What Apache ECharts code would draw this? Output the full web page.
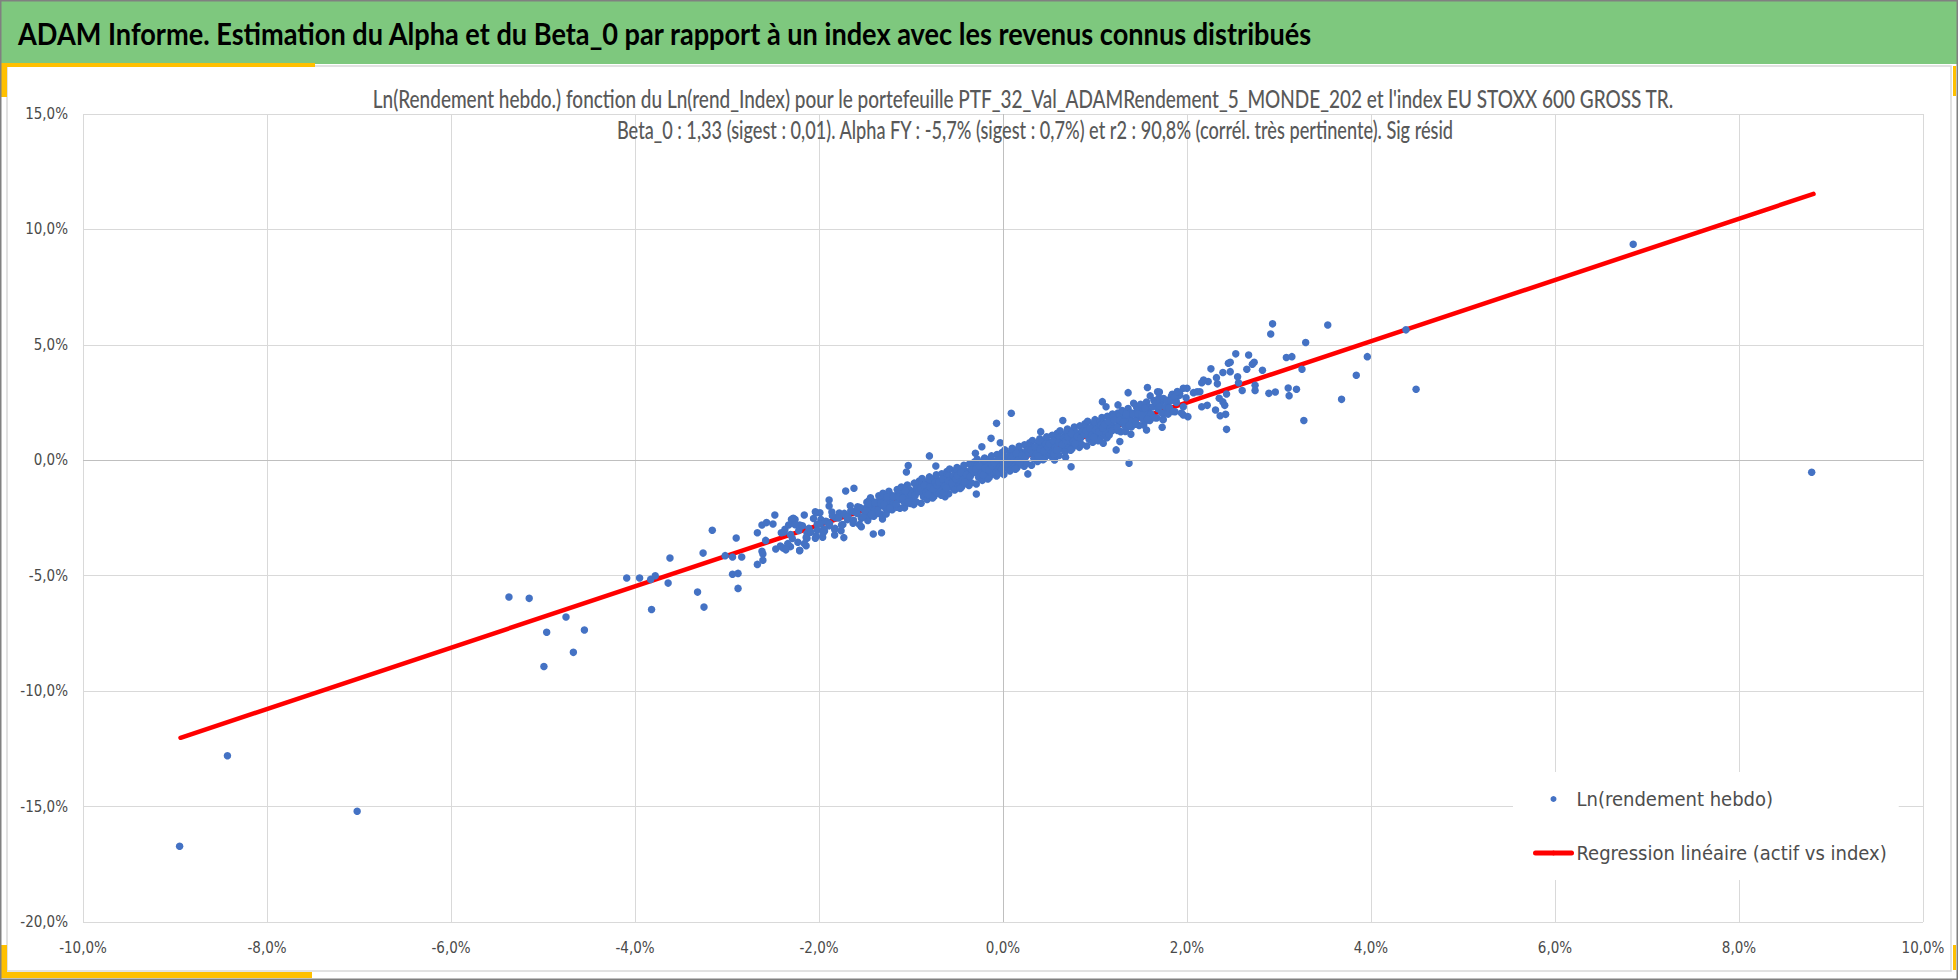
<!DOCTYPE html>
<html>
<head>
<meta charset="utf-8">
<script src="https://cdn.jsdelivr.net/npm/echarts@6.0.0/dist/echarts.min.js"></script>
<style>
  html, body { margin: 0; padding: 0; background: #fff; }
  #chart { width: 1958px; height: 980px; }
</style>
</head>
<body>
<div id="chart"></div>
<script>
// texts
const bannerTitle = 'ADAM Informe. Estimation du Alpha et du Beta_0 par rapport à un index avec les revenus connus distribués'
const subTitle1 = "Ln(Rendement hebdo.) fonction du Ln(rend_Index) pour le portefeuille PTF_32_Val_ADAMRendement_5_MONDE_202 et l'index EU STOXX 600 GROSS TR."
const subTitle2 = 'Beta_0 : 1,33 (sigest : 0,01). Alpha FY : -5,7% (sigest : 0,7%) et r2 : 90,8% (corrél. très pertinente). Sig résid'
const scatterName = 'Ln(rendement hebdo)'
const lineName = 'Regression linéaire (actif vs index)'

// [ln rend index %, ln rend portefeuille %]
const outlierPts = [[-8.95,-16.72],[-8.43,-12.80],[-7.02,-15.20],[6.85,9.36],[8.79,-0.52]]

const leftTailPts = [
  [-5.37,-5.92],[-5.15,-5.98],[-4.75,-6.79],[-4.96,-7.45],[-4.55,-7.35],[-4.67,-8.32],[-4.99,-8.93],
  [-4.09,-5.10],[-3.95,-5.10],[-3.83,-5.16],[-3.78,-5.00],[-3.82,-6.46],[-3.64,-5.32],[-3.62,-4.23],
  [-3.32,-5.71],[-3.25,-6.36],[-3.26,-4.02],[-3.16,-3.03],[-3.02,-4.13],[-2.94,-4.19],[-2.84,-4.19],
  [-2.90,-3.37],[-2.94,-4.94],[-2.88,-4.90],[-2.88,-5.55],[-2.67,-3.14],[-2.62,-2.80],[-2.57,-2.70],
  [-2.50,-2.76],[-2.48,-2.37],[-2.58,-3.47],[-2.62,-3.94],[-2.61,-4.06],[-2.61,-4.33],[-2.67,-4.51],
  [-2.47,-3.84],[-2.42,-3.71],[-2.39,-3.80],[-2.31,-3.74],[-2.21,-3.90],[-2.14,-3.70],[-2.41,-3.14],
  [-2.37,-2.99],[-2.33,-2.80],[-2.30,-2.56],[-2.26,-2.56],[-2.21,-2.80],[-2.16,-2.37],[-2.13,-3.16],
  [-2.13,-3.38],[-2.04,-3.38],[-2.03,-2.27],[-1.99,-2.27],[-2.02,-3.02],[-1.95,-2.98],[-1.89,-1.72],
  [-1.89,-1.98],[-1.83,-3.24],[-2.28,-2.51],[-2.04,-2.23]
]

const offBandPts = [
  [0.09,2.04],[-0.07,1.60],[-0.13,0.95],[-0.03,0.76],[-0.23,0.59],[-0.30,0.30],[-0.80,0.19],
  [-1.03,-0.23],[-1.05,-0.51],[-0.73,-0.25],[-0.29,-1.46],[-0.63,-1.58],[-1.71,-1.33],[-1.62,-1.21],
  [-1.41,-3.19],[-1.32,-3.14],[-1.73,-3.35],[-1.54,-2.88],[-1.31,-2.54],[-2.21,-3.92],[0.74,-0.28],
  [0.68,0.13],[0.27,-0.59],[1.37,-0.13],[1.23,0.45],[1.27,0.81],[1.09,0.74],[1.39,1.13],[1.08,2.54],
  [1.12,2.32],[1.25,2.40],[1.42,2.47],[0.41,1.24],[0.65,1.72],[0.56,0.01]
]

const rightTailPts = [
  [2.93,5.91],[2.91,5.47],[3.53,5.86],[3.29,5.10],[4.38,5.65],[3.96,4.49],[3.84,3.68],[4.49,3.08],
  [3.68,2.64],[3.27,1.72],[3.25,3.94],[3.08,4.45],[3.14,4.49],[3.10,3.13],[3.11,2.80],[3.19,3.08],
  [2.89,2.90],[2.96,2.96],[2.82,3.90],[2.74,3.25],[2.74,3.02],[2.60,3.02],[2.53,4.61],[2.67,4.56],
  [2.65,3.94],[2.71,4.16],[2.73,4.25],[2.55,3.62],[2.56,3.36],[2.47,3.84],[2.45,4.20],[2.47,4.25],
  [2.39,3.80],[2.43,2.87],[2.39,2.53],[2.41,2.38],[2.42,1.99],[2.36,1.93],[2.43,1.34],[2.31,2.18],
  [2.35,2.69],[2.33,3.31],[2.32,3.58],[2.26,3.96],[2.23,3.41],[2.18,3.48],[2.16,3.36],[2.22,2.38],
  [2.16,2.32],[2.14,2.97],[2.11,2.97],[2.07,2.93],[2.00,3.12],[1.96,3.12],[1.92,2.90],[2.01,1.89],
  [1.96,1.96],[1.83,2.76],[1.82,2.61],[1.68,2.97],[1.57,3.15],[1.60,2.79],[1.36,2.93],[1.73,1.43],
  [1.74,1.76],[1.56,1.31],[1.70,2.96]
]

// dense ribbon around the fit, read column by column
const bandPts = [
  [-0.97,-1.92],[-0.93,-1.05],[-1.00,-1.61],[-0.95,-1.34],[-0.91,-0.90],[-0.98,-1.73],[-0.94,-1.20],[-0.99,-1.50],[-0.92,-1.11],[-0.96,-1.79],
  [-0.87,-1.16],[-0.83,-1.65],[-0.90,-0.96],[-0.85,-1.34],[-0.81,-1.42],[-0.88,-0.79],[-0.84,-1.22],[-0.89,-1.86],[-0.82,-0.94],[-0.86,-1.39],
  [-0.77,-1.42],[-0.73,-1.01],[-0.80,-0.72],[-0.75,-1.57],[-0.71,-0.86],[-0.78,-1.17],[-0.74,-1.28],[-0.79,-0.79],[-0.72,-1.43],[-0.76,-0.99],
  [-0.67,-1.51],[-0.63,-0.64],[-0.70,-1.20],[-0.65,-0.93],[-0.61,-0.49],[-0.68,-1.32],[-0.64,-0.79],[-0.69,-1.09],[-0.62,-0.70],[-0.66,-1.38],
  [-0.57,-0.75],[-0.53,-1.24],[-0.60,-0.55],[-0.55,-0.93],[-0.51,-1.01],[-0.58,-0.38],[-0.54,-0.81],[-0.59,-1.45],[-0.52,-0.53],[-0.56,-0.98],
  [-0.47,-1.01],[-0.43,-0.60],[-0.50,-0.31],[-0.45,-1.16],[-0.41,-0.45],[-0.48,-0.76],[-0.44,-0.87],[-0.49,-0.38],[-0.42,-1.02],[-0.46,-0.58],
  [-0.37,-1.09],[-0.33,-0.22],[-0.40,-0.78],[-0.35,-0.51],[-0.31,-0.07],[-0.38,-0.90],[-0.34,-0.37],[-0.39,-0.67],[-0.32,-0.28],[-0.36,-0.96],
  [-0.27,-0.33],[-0.23,-0.82],[-0.30,-0.13],[-0.25,-0.51],[-0.21,-0.59],[-0.28,0.04],[-0.24,-0.39],[-0.29,-1.03],[-0.22,-0.11],[-0.26,-0.56],
  [-0.17,-0.60],[-0.13,-0.19],[-0.20,0.10],[-0.15,-0.75],[-0.11,-0.04],[-0.18,-0.35],[-0.14,-0.46],[-0.19,0.03],[-0.12,-0.61],[-0.16,-0.17],
  [-0.07,-0.68],[-0.03,0.19],[-0.10,-0.37],[-0.05,-0.10],[-0.01,0.34],[-0.08,-0.49],[-0.04,0.04],[-0.09,-0.26],[-0.02,0.13],[-0.06,-0.55],
  [0.03,0.08],[0.07,-0.41],[0.00,0.28],[0.05,-0.10],[0.09,-0.18],[0.02,0.45],[0.06,0.02],[0.01,-0.62],[0.08,0.30],[0.04,-0.15],
  [0.13,-0.18],[0.17,0.23],[0.10,0.52],[0.15,-0.33],[0.19,0.38],[0.12,0.07],[0.16,-0.04],[0.11,0.45],[0.18,-0.19],[0.14,0.25],
  [0.23,-0.26],[0.27,0.61],[0.20,0.05],[0.25,0.32],[0.29,0.76],[0.22,-0.07],[0.26,0.46],[0.21,0.16],[0.28,0.55],[0.24,-0.13],
  [0.33,0.49],[0.37,0.00],[0.30,0.69],[0.35,0.31],[0.39,0.23],[0.32,0.86],[0.36,0.43],[0.31,-0.21],[0.38,0.71],[0.34,0.26],
  [0.43,0.23],[0.47,0.64],[0.40,0.93],[0.45,0.08],[0.49,0.79],[0.42,0.48],[0.46,0.37],[0.41,0.86],[0.48,0.22],[0.44,0.66],
  [0.53,0.15],[0.57,1.02],[0.50,0.46],[0.55,0.73],[0.59,1.17],[0.52,0.34],[0.56,0.87],[0.51,0.57],[0.58,0.96],[0.54,0.28],
  [0.63,0.91],[0.67,0.42],[0.60,1.11],[0.65,0.73],[0.69,0.65],[0.62,1.28],[0.66,0.85],[0.61,0.21],[0.68,1.13],[0.64,0.68],
  [0.73,0.65],[0.77,1.06],[0.70,1.35],[0.75,0.50],[0.79,1.21],[0.72,0.90],[0.76,0.79],[0.71,1.28],[0.78,0.64],[0.74,1.08],
  [0.83,0.56],[0.87,1.43],[0.80,0.87],[0.85,1.14],[0.89,1.58],[0.82,0.75],[0.86,1.28],[0.81,0.98],[0.88,1.37],[0.84,0.69],
  [0.93,1.32],[0.97,0.83],[0.90,1.52],[0.95,1.14],[0.99,1.06],[0.92,1.69],[0.96,1.26],[0.91,0.62],[0.98,1.54],[0.94,1.09],
  [1.03,1.06],[1.07,1.47],[1.00,1.76],[1.05,0.91],[1.09,1.62],[1.02,1.31],[1.06,1.20],[1.01,1.69],[1.08,1.05],[1.04,1.49],
  [1.13,0.98],[1.17,1.85],[1.10,1.29],[1.15,1.56],[1.19,2.00],[1.12,1.17],[1.16,1.70],[1.11,1.40],[1.18,1.79],[1.14,1.11]
]

// second pass over the same ribbon, where the dots overlap into a solid band
const bandFillPts = [
  [-0.985,-1.64],[-0.965,-0.99],[-0.945,-1.80],[-0.925,-1.24],[-0.905,-1.05],
  [-0.885,-1.08],[-0.865,-1.57],[-0.845,-1.19],[-0.825,-1.70],[-0.805,-0.81],
  [-0.785,-1.24],[-0.765,-1.63],[-0.745,-0.80],[-0.725,-0.63],[-0.705,-1.30],
  [-0.685,-1.23],[-0.665,-0.58],[-0.645,-1.39],[-0.625,-0.83],[-0.605,-0.64],
  [-0.585,-0.67],[-0.565,-1.16],[-0.545,-0.78],[-0.525,-1.29],[-0.505,-0.40],
  [-0.485,-0.83],[-0.465,-1.22],[-0.445,-0.39],[-0.425,-0.22],[-0.405,-0.89],
  [-0.385,-0.81],[-0.365,-0.16],[-0.345,-0.97],[-0.325,-0.41],[-0.305,-0.22],
  [-0.285,-0.25],[-0.265,-0.74],[-0.245,-0.36],[-0.225,-0.87],[-0.205,0.02],
  [-0.185,-0.42],[-0.165,-0.81],[-0.145,0.02],[-0.125,0.19],[-0.105,-0.48],
  [-0.085,-0.40],[-0.065,0.25],[-0.045,-0.56],[-0.025,0.00],[-0.005,0.19],
  [0.015,0.16],[0.035,-0.33],[0.055,0.05],[0.075,-0.46],[0.095,0.43],
  [0.115,0.00],[0.135,-0.39],[0.155,0.44],[0.175,0.61],[0.195,-0.06],
  [0.215,0.02],[0.235,0.67],[0.255,-0.14],[0.275,0.42],[0.295,0.61],
  [0.315,0.57],[0.335,0.08],[0.355,0.46],[0.375,-0.05],[0.395,0.84],
  [0.415,0.41],[0.435,0.02],[0.455,0.85],[0.475,1.02],[0.495,0.35],
  [0.515,0.43],[0.535,1.08],[0.555,0.27],[0.575,0.83],[0.595,1.02],
  [0.615,0.99],[0.635,0.50],[0.655,0.88],[0.675,0.37],[0.695,1.26],
  [0.715,0.83],[0.735,0.44],[0.755,1.27],[0.775,1.44],[0.795,0.77],
  [0.815,0.84],[0.835,1.49],[0.855,0.68],[0.875,1.24],[0.895,1.43],
  [0.915,1.40],[0.935,0.91],[0.955,1.29],[0.975,0.78],[0.995,1.67],
  [1.015,1.24],[1.035,0.85],[1.055,1.68],[1.075,1.85],[1.095,1.18],
  [1.115,1.26],[1.135,1.91],[1.155,1.10],[1.175,1.66],[1.195,1.85],
  [-0.995,-1.45],[-0.955,-1.52],[-0.935,-1.23],[-0.915,-1.36],
  [-0.895,-1.21],[-0.855,-1.08],[-0.835,-1.38],[-0.815,-1.48],
  [-0.795,-1.17],[-0.755,-1.24],[-0.735,-0.95],[-0.715,-1.08],
  [-0.695,-0.94],[-0.655,-0.81],[-0.635,-1.11],[-0.615,-1.21],
  [-0.595,-0.90],[-0.555,-0.97],[-0.535,-0.68],[-0.515,-0.81],
  [-0.495,-0.66],[-0.455,-0.53],[-0.435,-0.83],[-0.415,-0.93],
  [-0.395,-0.62],[-0.355,-0.69],[-0.335,-0.40],[-0.315,-0.53],
  [-0.295,-0.38],[-0.255,-0.25],[-0.235,-0.55],[-0.215,-0.65],
  [-0.195,-0.35],[-0.155,-0.42],[-0.135,-0.13],[-0.115,-0.26],
  [-0.095,-0.11],[-0.055,0.02],[-0.035,-0.28],[-0.015,-0.38],
  [0.005,-0.07],[0.045,-0.14],[0.065,0.15],[0.085,0.02],
  [0.105,0.17],[0.145,0.30],[0.165,0.00],[0.185,-0.10],
  [0.205,0.21],[0.245,0.14],[0.265,0.43],[0.285,0.30],
  [0.305,0.44],[0.345,0.57],[0.365,0.27],[0.385,0.17],
  [0.405,0.48],[0.445,0.41],[0.465,0.70],[0.485,0.57],
  [0.505,0.72],[0.545,0.85],[0.565,0.55],[0.585,0.45],
  [0.605,0.76],[0.645,0.69],[0.665,0.98],[0.685,0.85],
  [0.705,1.00],[0.745,1.13],[0.765,0.83],[0.785,0.73],
  [0.805,1.03],[0.845,0.96],[0.865,1.25],[0.885,1.12],
  [0.905,1.27],[0.945,1.40],[0.965,1.10],[0.985,1.00],
  [1.005,1.31],[1.045,1.24],[1.065,1.53],[1.085,1.40],
  [1.105,1.55],[1.145,1.68],[1.165,1.38],[1.185,1.28],
  [-1.49,-2.19],[-1.46,-1.87],[-1.43,-2.35],
  [-1.39,-1.85],[-1.36,-2.17],[-1.33,-1.86],
  [-1.29,-1.91],[-1.26,-1.59],[-1.23,-2.07],
  [-1.19,-1.58],[-1.16,-1.90],[-1.13,-1.59],
  [-1.09,-1.64],[-1.06,-1.32],[-1.03,-1.80],
  [1.21,1.74],[1.24,1.42],[1.27,1.73],
  [1.31,1.67],[1.34,1.99],[1.37,1.51],
  [1.41,2.01],[1.44,1.69],[1.47,2.00],
  [1.51,1.95],[1.54,2.27],[1.57,1.79]
]

// shoulders of the ribbon on both sides of the core
const bandShoulderPts = [
  [-1.495,-2.09],[-1.475,-2.37],[-1.455,-1.74],[-1.435,-2.11],[-1.415,-1.83],[-1.405,-2.42],
  [-1.395,-2.15],[-1.375,-1.83],[-1.355,-2.30],[-1.335,-1.67],[-1.315,-1.91],[-1.305,-1.43],
  [-1.295,-1.81],[-1.275,-2.09],[-1.255,-1.46],[-1.235,-1.83],[-1.215,-1.55],[-1.205,-2.14],
  [-1.195,-1.88],[-1.175,-1.56],[-1.155,-2.03],[-1.135,-1.40],[-1.115,-1.64],[-1.105,-1.16],
  [-1.095,-1.54],[-1.075,-1.82],[-1.055,-1.19],[-1.035,-1.56],[-1.015,-1.28],[-1.005,-1.87],
  [1.205,1.44],[1.225,1.76],[1.245,1.29],[1.265,1.92],[1.285,1.68],[1.295,2.16],
  [1.305,1.77],[1.325,1.49],[1.345,2.12],[1.365,1.75],[1.385,2.03],[1.395,1.44],
  [1.405,1.71],[1.425,2.03],[1.445,1.56],[1.465,2.19],[1.485,1.95],[1.495,2.43],
  [1.505,2.05],[1.525,1.77],[1.545,2.40],[1.565,2.03],[1.585,2.31],[1.595,1.72],
  [1.605,1.99],[1.625,2.31],[1.645,1.84],[1.665,2.47],[1.685,2.23],[1.695,2.71],
  [1.705,2.33],[1.725,2.05],[1.745,2.68],[1.765,2.31],[1.785,2.59],[1.795,2.00],
  [1.805,2.26],[1.825,2.58],[1.845,2.11],[1.865,2.74],[1.885,2.50],[1.895,2.98],
  [-1.985,-2.74],[-1.955,-3.14],[-1.925,-2.64],
  [-1.885,-2.75],[-1.855,-2.40],[-1.825,-2.95],
  [-1.785,-2.50],[-1.755,-2.80],[-1.725,-2.30],
  [-1.685,-2.45],[-1.655,-2.20],[-1.625,-2.60],
  [-1.585,-2.30],[-1.555,-2.05],[-1.525,-2.45]
]

const bandEdgePts = [
  [-1.48,-1.82],[-1.45,-2.43],[-1.42,-1.94],[-1.50,-2.25],[-1.44,-1.62],[-1.47,-2.61],
  [-1.38,-2.18],[-1.35,-1.54],[-1.32,-2.35],[-1.40,-1.81],[-1.34,-1.98],[-1.37,-1.82],
  [-1.28,-1.54],[-1.25,-2.15],[-1.22,-1.66],[-1.30,-1.97],[-1.24,-1.34],[-1.27,-2.33],
  [-1.18,-1.91],[-1.15,-1.27],[-1.12,-2.08],[-1.20,-1.54],[-1.14,-1.71],[-1.17,-1.55],
  [-1.08,-1.27],[-1.05,-1.88],[-1.02,-1.39],[-1.10,-1.70],[-1.04,-1.07],[-1.07,-2.06],
  [1.22,1.41],[1.25,2.05],[1.28,1.24],[1.20,1.78],[1.26,1.61],[1.23,1.77],
  [1.32,2.04],[1.35,1.43],[1.38,1.92],[1.30,1.61],[1.36,2.24],[1.33,1.25],
  [1.42,1.68],[1.45,2.32],[1.48,1.51],[1.40,2.05],[1.46,1.88],[1.43,2.04],
  [1.52,2.32],[1.55,1.71],[1.58,2.20],[1.50,1.89],[1.56,2.52],[1.53,1.53]
]

const bandTailPts = [
  [-2.38,-3.11],[-2.34,-3.61],[-2.31,-3.22],[-2.36,-3.88],
  [-2.29,-3.39],[-2.26,-2.79],[-2.23,-3.55],[-2.22,-3.04],
  [-2.18,-2.84],[-2.14,-3.34],[-2.11,-2.95],[-2.16,-3.61],
  [-2.09,-3.12],[-2.06,-2.52],[-2.03,-3.28],[-2.02,-2.77],
  [-1.98,-2.56],[-1.94,-3.06],[-1.91,-2.67],[-1.96,-3.33],
  [-1.89,-2.84],[-1.86,-2.24],[-1.83,-3.00],[-1.82,-2.49],
  [-1.78,-2.28],[-1.74,-2.78],[-1.71,-2.39],[-1.76,-3.05],
  [-1.69,-2.57],[-1.66,-1.97],[-1.63,-2.73],[-1.62,-2.22],
  [-1.58,-2.01],[-1.54,-2.51],[-1.51,-2.12],[-1.56,-2.78],
  [1.61,1.99],[1.64,2.59],[1.67,1.83],[1.68,2.34],
  [1.72,2.55],[1.76,2.05],[1.79,2.44],[1.74,1.78],
  [1.81,2.26],[1.84,2.86],[1.87,2.10],[1.88,2.61],
  [1.92,2.82],[1.96,2.32],[1.99,2.71],[1.94,2.05]
]

// regression line end points
const regLine = [[-8.94,-12.02],[8.81,11.54]]

function hasFont(name) {
  const ctx = document.createElement('canvas').getContext('2d')
  const probe = 'mmmmmwwwlli 10,0% Regression'
  ctx.font = '40px monospace'
  const a = ctx.measureText(probe).width
  ctx.font = '40px "' + name + '", monospace'
  return ctx.measureText(probe).width !== a
}

function fitScale(text, font, target) {
  const ctx = document.createElement('canvas').getContext('2d')
  ctx.font = font
  return target / ctx.measureText(text).width
}

const narrow = hasFont('Liberation Sans Narrow')
  ? 'Liberation Sans Narrow'
  : hasFont('DejaVu Sans Condensed') ? 'DejaVu Sans Condensed' : 'Roboto'
const isNarrow = narrow === 'Liberation Sans Narrow'
const axisSize = isNarrow ? 16 : 15
const legendSize = isNarrow ? 22 : 20

const pct = (v) => v.toFixed(1).replace('.', ',') + '%'

const titleFont = 'bold 31px Lato'
const subFont = '500 25px Lato'
const yellow = '#FFC000'

const chart = echarts.init(document.getElementById('chart'), null, {
  renderer: 'svg',
  width: 1958,
  height: 980,
})

const option = {
  backgroundColor: '#ffffff',
  animation: false,
  graphic: [
    { type: 'rect', z: -10, shape: { x: 0, y: 0, width: 1958, height: 64 }, style: { fill: '#7EC87E' } },
    { type: 'rect', z: -10, shape: { x: 7, y: 66, width: 1944, height: 905 }, style: { fill: 'none', stroke: '#D9D9D9', lineWidth: 1.5 } },
    { type: 'rect', z: -9, shape: { x: 0, y: 63, width: 315, height: 4 }, style: { fill: yellow } },
    { type: 'rect', z: -9, shape: { x: 0, y: 63, width: 7, height: 34 }, style: { fill: yellow } },
    { type: 'rect', z: -9, shape: { x: 0, y: 972, width: 312, height: 6 }, style: { fill: yellow } },
    { type: 'rect', z: -9, shape: { x: 0, y: 945, width: 7, height: 33 }, style: { fill: yellow } },
    { type: 'rect', z: -9, shape: { x: 1953, y: 66, width: 3, height: 30 }, style: { fill: yellow } },
    { type: 'rect', z: -9, shape: { x: 1953, y: 945, width: 3, height: 25 }, style: { fill: yellow } },
    { type: 'rect', z: 20, shape: { x: 0.75, y: 0.75, width: 1956.5, height: 978.5 }, style: { fill: 'none', stroke: '#808080', lineWidth: 1.5 } },
    {
      type: 'text', z: 20, x: 18, y: 33,
      scaleX: fitScale(bannerTitle, titleFont, 1295),
      style: { text: bannerTitle, font: titleFont, fill: '#000000', textAlign: 'left', textVerticalAlign: 'middle' },
    },
    {
      type: 'text', z: 20, x: 1023, y: 98,
      scaleX: fitScale(subTitle1, subFont, 1302),
      style: { text: subTitle1, font: subFont, fill: '#595959', textAlign: 'center', textVerticalAlign: 'middle' },
    },
    {
      type: 'text', z: 20, x: 1035, y: 129,
      scaleX: fitScale(subTitle2, subFont, 838),
      style: { text: subTitle2, font: subFont, fill: '#595959', textAlign: 'center', textVerticalAlign: 'middle' },
    },
  ],
  grid: { left: 83, right: 35, top: 114, bottom: 58 },
  xAxis: {
    type: 'value',
    min: -10,
    max: 10,
    interval: 2,
    axisLine: { show: false },
    axisTick: { show: false },
    splitLine: { show: true, lineStyle: { color: '#D9D9D9', width: 1 } },
    axisLabel: {
      formatter: pct, color: '#4A4A4A', fontFamily: narrow, fontSize: axisSize,
      margin: 18, showMinLabel: true, showMaxLabel: true,
    },
  },
  yAxis: {
    type: 'value',
    min: -20,
    max: 15,
    interval: 5,
    axisLine: { show: false },
    axisTick: { show: false },
    splitLine: { show: true, lineStyle: { color: '#D9D9D9', width: 1 } },
    axisLabel: {
      formatter: pct, color: '#4A4A4A', fontFamily: narrow, fontSize: axisSize,
      margin: 15, showMinLabel: true, showMaxLabel: true,
    },
  },
  legend: {
    orient: 'vertical',
    left: 1513,
    top: 772,
    padding: [15, 12, 15, 20],
    itemWidth: 36,
    itemHeight: 6,
    itemGap: 30,
    backgroundColor: '#ffffff',
    selectedMode: false,
    textStyle: { fontFamily: narrow, fontSize: legendSize, color: '#4D4D4D', lineHeight: 24 },
    data: [
      { name: scatterName, icon: 'circle' },
      { name: lineName, lineStyle: { width: 5 } },
    ],
  },
  series: [
    {
      name: lineName,
      type: 'line',
      z: 1,
      silent: true,
      symbol: 'none',
      data: regLine,
      itemStyle: { color: '#FF0000' },
      lineStyle: { color: '#FF0000', width: 4.5, cap: 'round' },
      markLine: {
        silent: true,
        symbol: 'none',
        label: { show: false },
        lineStyle: { color: '#BFBFBF', width: 1, type: 'solid' },
        data: [{ xAxis: 0 }, { yAxis: 0 }],
      },
    },
    {
      name: scatterName,
      type: 'scatter',
      z: 3,
      silent: true,
      symbolSize: 7.5,
      itemStyle: { color: '#4472C4', opacity: 1 },
      data: [
        ...outlierPts, ...leftTailPts, ...offBandPts, ...rightTailPts,
        ...bandTailPts, ...bandEdgePts, ...bandShoulderPts, ...bandPts, ...bandFillPts,
      ],
    },
  ],
}

chart.setOption(option)
</script>
</body>
</html>
